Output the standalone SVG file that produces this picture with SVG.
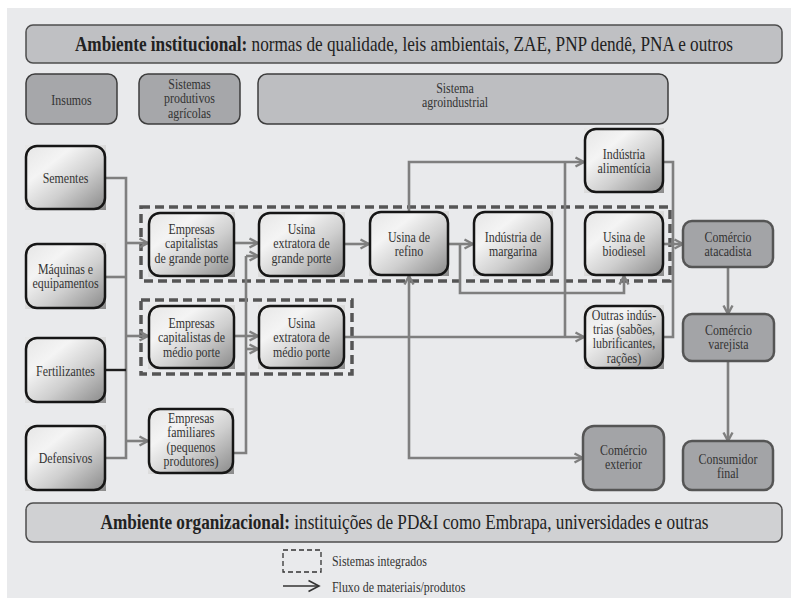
<svg xmlns="http://www.w3.org/2000/svg" width="791" height="600" viewBox="0 0 791 600">
<defs>
<linearGradient id="gr" x1="0" y1="0" x2="1" y2="1">
<stop offset="0" stop-color="#e6e6e6"/>
<stop offset="0.3" stop-color="#f4f4f4"/>
<stop offset="0.6" stop-color="#cfcfcf"/>
<stop offset="1" stop-color="#8a8a8a"/>
</linearGradient>
<marker id="ar" markerUnits="userSpaceOnUse" viewBox="0 0 12 12" refX="10.5" refY="6" markerWidth="12" markerHeight="12" orient="auto">
<path d="M2,1.5 L10.5,6 L2,10.5" fill="none" stroke="#7f7f7f" stroke-width="2.4"/>
</marker>
<marker id="ark" markerUnits="userSpaceOnUse" viewBox="0 0 14 14" refX="12.5" refY="7" markerWidth="14" markerHeight="14" orient="auto">
<path d="M2,1.5 L12.5,7 L2,12.5" fill="none" stroke="#333" stroke-width="1.6"/>
</marker>
<style>
.bar{fill:#bfc0c3;stroke:#4d4d4d;stroke-width:1.5}
.bar2{fill:#d0d1d3;stroke:#4d4d4d;stroke-width:1.5}
.hd{fill:#a6a7aa;stroke:#3d3d3d;stroke-width:1.5}
.hl{fill:#bdbec1;stroke:#3d3d3d;stroke-width:1.5}
.sq{fill:url(#gr)}
.g{fill:url(#gr);stroke:#161616;stroke-width:2.5}
.d{fill:#a3a4a7;stroke:#555;stroke-width:2.5}
.dash{fill:none;stroke:#555;stroke-width:3.5;stroke-dasharray:9 5}
.c{fill:none;stroke:#7f7f7f;stroke-width:2.6}
.a{marker-end:url(#ar)}
text{font-family:'Liberation Serif','DejaVu Serif',serif}
.t{font-size:14px;fill:#333;text-anchor:middle}
.big{font-size:21.5px;fill:#222;text-anchor:middle}
.lg{font-size:14px;fill:#333}
</style>
</defs>
<rect x="7" y="8" width="784" height="590" fill="#e9eaec"/>

<g id="ambiente-institucional">
<rect class="bar" x="26" y="25" width="756" height="38" rx="7"/>
<text class="big" transform="translate(404,51) scale(0.8,1)"><tspan font-weight="bold">Ambiente institucional:</tspan> normas de qualidade, leis ambientais, ZAE, PNP dendê, PNA e outros</text>
</g>

<g id="insumos">
<rect class="hd" x="26" y="74" width="91" height="50" rx="9"/>
<text class="t" transform="translate(71.5,105) scale(0.85,1)">Insumos</text>
</g>
<g id="sistemas-produtivos">
<rect class="hd" x="139" y="74" width="101" height="50" rx="9"/>
<text class="t" transform="translate(189.5,89) scale(0.85,1)"><tspan x="0">Sistemas</tspan><tspan x="0" dy="14.5">produtivos</tspan><tspan x="0" dy="14.5">agrícolas</tspan></text>
</g>
<g id="sistema-agroindustrial">
<rect class="hl" x="258" y="74" width="410" height="50" rx="9"/>
<text class="t" transform="translate(455,92.5) scale(0.85,1)"><tspan x="0">Sistema</tspan><tspan x="0" dy="14.5">agroindustrial</tspan></text>
</g>

<g id="integrados">
<rect class="dash" x="141" y="207" width="529" height="74"/>
<rect class="dash" x="141" y="300" width="211" height="74"/>
</g>

<g id="connectors">
<path class="c" d="M106,178 H126 V458 H106"/>
<path class="c" d="M106,277 H126"/>
<path d="M106,370 H126" fill="none" stroke="#1e1e1e" stroke-width="2.4"/>
<path class="c a" d="M126,243 H148"/>
<path class="c a" d="M126,336 H148"/>
<path class="c a" d="M126,441 H148"/>
<path class="c a" d="M235,243 H258"/>
<path class="c a" d="M235,336 H258"/>
<path class="c" d="M234,453 H246 V256"/>
<path class="c a" d="M246,256 H258"/>
<path class="c a" d="M246,349 H258"/>
<path class="c a" d="M345,244 H369"/>
<path class="c a" d="M345,337 H584"/>
<path class="c a" d="M409,337 V276"/>
<path class="c a" d="M409,337 V458 H583"/>
<path class="c a" d="M409,211 V162 H584"/>
<path class="c" d="M565,162 V337"/>
<path class="c a" d="M449,244 H473"/>
<path class="c a" d="M460,244 V293 H624 V276"/>
<path class="c a" d="M664,244 H683"/>
<path class="c" d="M664,162 H673 V337 H664"/>
<path class="c a" d="M728,267 V314"/>
<path class="c a" d="M728,361 V441"/>
</g>

<g id="sementes">
<rect class="sq" x="25" y="145" width="81" height="65"/>
<rect class="g" x="26" y="146" width="79" height="63" rx="11"/>
<text class="t" transform="translate(65.5,183) scale(0.85,1)">Sementes</text>
</g>
<g id="maquinas">
<rect class="sq" x="25" y="243" width="81" height="66"/>
<rect class="g" x="26" y="244" width="79" height="64" rx="11"/>
<text class="t" transform="translate(65.5,274) scale(0.85,1)"><tspan x="0">Máquinas e</tspan><tspan x="0" dy="14.5">equipamentos</tspan></text>
</g>
<g id="fertilizantes">
<rect class="sq" x="25" y="337" width="81" height="66"/>
<rect class="g" x="26" y="338" width="79" height="64" rx="11"/>
<text class="t" transform="translate(65.5,376) scale(0.85,1)">Fertilizantes</text>
</g>
<g id="defensivos">
<rect class="sq" x="25" y="425" width="81" height="66"/>
<rect class="g" x="26" y="426" width="79" height="64" rx="11"/>
<text class="t" transform="translate(65.5,463) scale(0.85,1)">Defensivos</text>
</g>

<g id="empresas-grande">
<rect class="sq" x="148" y="212" width="87" height="65"/>
<rect class="g" x="149" y="213" width="85" height="63" rx="11"/>
<text class="t" transform="translate(191.5,234) scale(0.85,1)"><tspan x="0">Empresas</tspan><tspan x="0" dy="14.5">capitalistas</tspan><tspan x="0" dy="14.5">de grande porte</tspan></text>
</g>
<g id="usina-extratora-grande">
<rect class="sq" x="258" y="212" width="87" height="65"/>
<rect class="g" x="259" y="213" width="85" height="63" rx="11"/>
<text class="t" transform="translate(301.5,234) scale(0.85,1)"><tspan x="0">Usina</tspan><tspan x="0" dy="14.5">extratora de</tspan><tspan x="0" dy="14.5">grande porte</tspan></text>
</g>
<g id="empresas-medio">
<rect class="sq" x="148" y="305" width="87" height="64"/>
<rect class="g" x="149" y="306" width="85" height="62" rx="11"/>
<text class="t" transform="translate(191.5,328) scale(0.85,1)"><tspan x="0">Empresas</tspan><tspan x="0" dy="14.5">capitalistas de</tspan><tspan x="0" dy="14.5">médio porte</tspan></text>
</g>
<g id="usina-extratora-medio">
<rect class="sq" x="258" y="305" width="87" height="64"/>
<rect class="g" x="259" y="306" width="85" height="62" rx="11"/>
<text class="t" transform="translate(301.5,328) scale(0.85,1)"><tspan x="0">Usina</tspan><tspan x="0" dy="14.5">extratora de</tspan><tspan x="0" dy="14.5">médio porte</tspan></text>
</g>
<g id="empresas-familiares">
<rect class="sq" x="148" y="408" width="86" height="66"/>
<rect class="g" x="149" y="409" width="84" height="64" rx="11"/>
<text class="t" transform="translate(191,423) scale(0.85,1)"><tspan x="0">Empresas</tspan><tspan x="0" dy="14.5">familiares</tspan><tspan x="0" dy="14.5">(pequenos</tspan><tspan x="0" dy="14.5">produtores)</tspan></text>
</g>
<g id="usina-refino">
<rect class="sq" x="369" y="211" width="80" height="65"/>
<rect class="g" x="370" y="212" width="78" height="63" rx="11"/>
<text class="t" transform="translate(409,241.5) scale(0.85,1)"><tspan x="0">Usina de</tspan><tspan x="0" dy="14.5">refino</tspan></text>
</g>
<g id="industria-margarina">
<rect class="sq" x="473" y="211" width="80" height="65"/>
<rect class="g" x="474" y="212" width="78" height="63" rx="11"/>
<text class="t" transform="translate(513,241.5) scale(0.85,1)"><tspan x="0">Indústria de</tspan><tspan x="0" dy="14.5">margarina</tspan></text>
</g>
<g id="usina-biodiesel">
<rect class="sq" x="584" y="211" width="80" height="65"/>
<rect class="g" x="585" y="212" width="78" height="63" rx="11"/>
<text class="t" transform="translate(624,241.5) scale(0.85,1)"><tspan x="0">Usina de</tspan><tspan x="0" dy="14.5">biodiesel</tspan></text>
</g>
<g id="industria-alimenticia">
<rect class="sq" x="584" y="128" width="80" height="65"/>
<rect class="g" x="585" y="129" width="78" height="63" rx="11"/>
<text class="t" transform="translate(624,158.5) scale(0.85,1)"><tspan x="0">Indústria</tspan><tspan x="0" dy="14.5">alimentícia</tspan></text>
</g>
<g id="outras-industrias">
<rect class="sq" x="584" y="305" width="80" height="64"/>
<rect class="g" x="585" y="306" width="78" height="62" rx="11"/>
<text class="t" transform="translate(624,319.5) scale(0.85,1)"><tspan x="0">Outras indús-</tspan><tspan x="0" dy="14.5">trias (sabões,</tspan><tspan x="0" dy="14.5">lubrificantes,</tspan><tspan x="0" dy="14.5">rações)</tspan></text>
</g>

<g id="comercio-atacadista">
<rect class="d" x="683" y="221" width="90" height="46" rx="9"/>
<text class="t" transform="translate(728,242) scale(0.85,1)"><tspan x="0">Comércio</tspan><tspan x="0" dy="14.5">atacadista</tspan></text>
</g>
<g id="comercio-varejista">
<rect class="d" x="683" y="314" width="91" height="47" rx="9"/>
<text class="t" transform="translate(728.5,335) scale(0.85,1)"><tspan x="0">Comércio</tspan><tspan x="0" dy="14.5">varejista</tspan></text>
</g>
<g id="comercio-exterior">
<rect class="d" x="583" y="426" width="81" height="64" rx="11"/>
<text class="t" transform="translate(623.5,455) scale(0.85,1)"><tspan x="0">Comércio</tspan><tspan x="0" dy="14.5">exterior</tspan></text>
</g>
<g id="consumidor-final">
<rect class="d" x="683" y="441" width="90" height="49" rx="9"/>
<text class="t" transform="translate(728,464) scale(0.85,1)"><tspan x="0">Consumidor</tspan><tspan x="0" dy="14.5">final</tspan></text>
</g>

<g id="ambiente-organizacional">
<rect class="bar2" x="26" y="503" width="756" height="39" rx="7"/>
<text class="big" transform="translate(404.5,529) scale(0.8,1)"><tspan font-weight="bold">Ambiente organizacional:</tspan> instituições de PD&amp;I como Embrapa, universidades e outras</text>
</g>

<g id="legenda">
<rect x="283" y="550" width="38" height="22" fill="none" stroke="#333" stroke-width="1.3" stroke-dasharray="5 3"/>
<text class="lg" transform="translate(332,566) scale(0.85,1)">Sistemas integrados</text>
<path d="M283,586 H319" fill="none" stroke="#333" stroke-width="1.6" marker-end="url(#ark)"/>
<text class="lg" transform="translate(332,592) scale(0.85,1)">Fluxo de materiais/produtos</text>
</g>
</svg>
